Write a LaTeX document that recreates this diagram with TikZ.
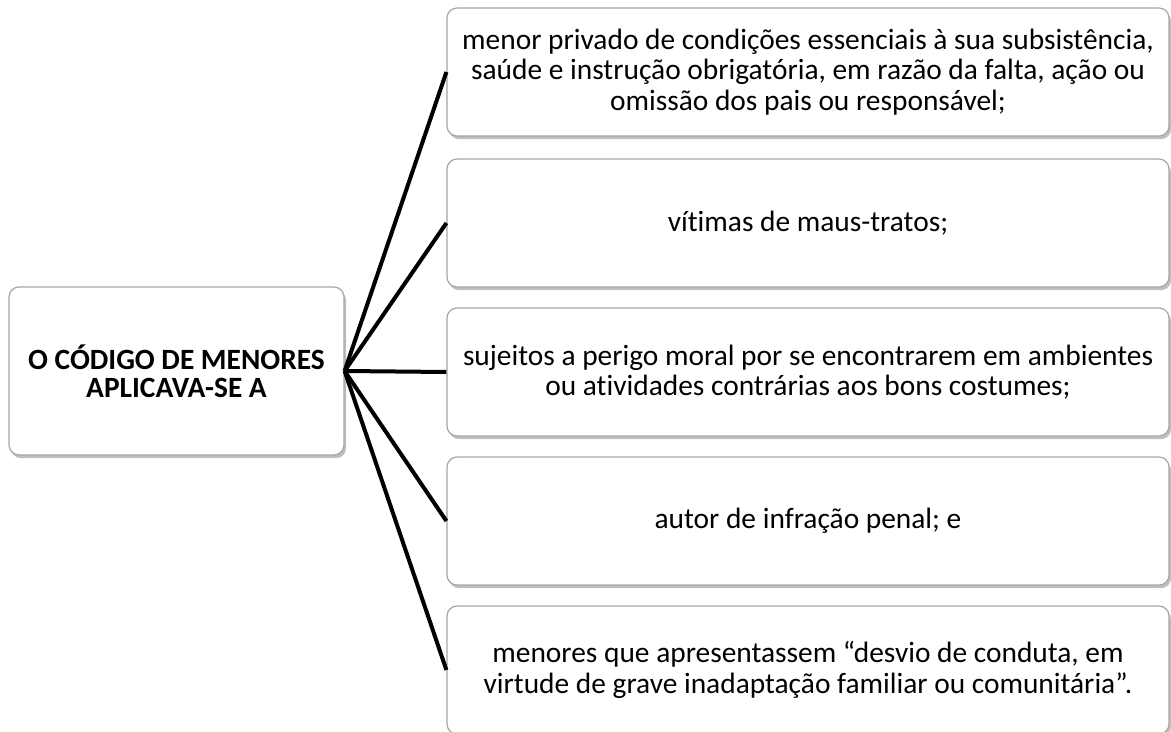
\documentclass[tikz,border=0pt]{standalone}
\usepackage{fontspec}
\setmainfont{Carlito}[Ligatures=NoCommon]
\usetikzlibrary{shadows}

\begin{document}
\begin{tikzpicture}[x=0.5pt, y=-0.5pt,
		caixa/.style={draw=gray!70, line width=0.6pt, rounded corners=5pt, fill=white,
			drop shadow={shadow xshift=1pt, shadow yshift=-1.6pt, fill=black, opacity=0.25},
			align=center, font=\fontsize{14.7}{15.2}\selectfont, inner sep=2pt},
		item/.style={caixa, minimum width=361pt, minimum height=64pt},
		ligacao/.style={line width=2pt, black}]
	\useasboundingbox (0,0) rectangle (1171,732);
	\node[caixa, minimum width=167.5pt, minimum height=84pt,
		font=\fontsize{14.7}{14.2}\selectfont\bfseries] (cod) at (176.5,371)
		{O CÓDIGO DE MENORES\\ APLICAVA-SE A};
	\node[item] (m1) at (808,72)
		{menor privado de condições essenciais à sua subsistência,\\ saúde e instrução obrigatória, em razão da falta, ação ou\\ omissão dos pais ou responsável;};
	\node[item] (m2) at (808,223) {vítimas de maus-tratos;};
	\node[item] (m3) at (808,372)
		{sujeitos a perigo moral por se encontrarem em ambientes\\ ou atividades contrárias aos bons costumes;};
	\node[item] (m4) at (808,521) {autor de infração penal; e};
	\node[item] (m5) at (808,670)
		{menores que apresentassem “desvio de conduta, em\\ virtude de grave inadaptação familiar ou comunitária”.};
	\path[ligacao]
	(cod.east) edge (m1.west)
	edge (m2.west)
	edge (m3.west)
	edge (m4.west)
	edge (m5.west);
\end{tikzpicture}
\end{document}
